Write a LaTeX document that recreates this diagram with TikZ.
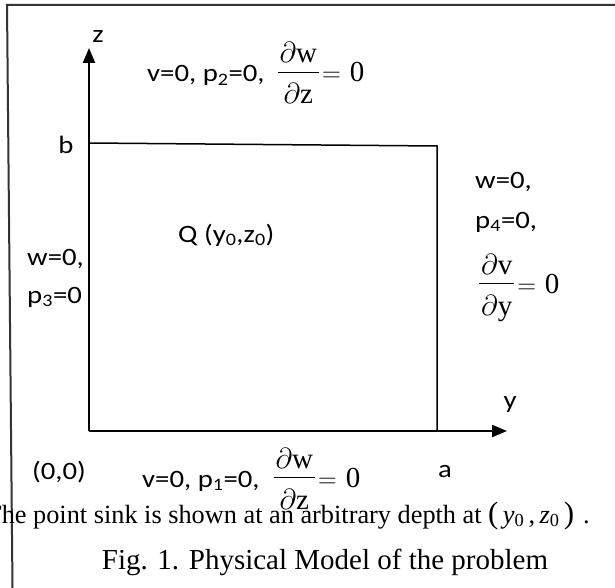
\RequirePackage{fix-cm}
\documentclass[tikz,border=0pt]{standalone}
\usepackage{amsmath}
\usepackage{fontspec}
\setmainfont{Liberation Serif}
\setsansfont{Carlito}[FakeStretch=1.15]
\usetikzlibrary{arrows.meta}

\tikzset{
  lbl/.style={font=\sffamily\fontsize{25}{30}\selectfont, inner sep=0pt},
  captext/.style={font=\rmfamily\fontsize{29}{34}\selectfont, inner sep=0pt},
  notetext/.style={font=\rmfamily\fontsize{26.3}{31}\selectfont, inner sep=0pt},
  axis/.style={line width=2.2pt, -{Triangle[length=15pt,width=12pt]}},
  boxline/.style={line width=1.5pt}
}
\newcommand{\pfrac}[2]{{\rmfamily\fontsize{29}{34}\selectfont
  \setbox0\hbox{$\partial$#1}\setbox2\hbox{$\partial$#2}%
  \dimen0=\ifdim\wd0>\wd2 \wd0\else\wd2\fi
  \advance\dimen0 by 4pt
  \rlap{\hbox to\dimen0{\hss\raisebox{19pt}{\copy0}\hss}}%
  \rlap{\hbox to\dimen0{\hss\raisebox{-22pt}{\copy2}\hss}}%
  \rule[9pt]{\dimen0}{1.2pt}\hspace{3pt}{\fontsize{26}{30}\selectfont$=$}\hspace{9pt}0}}
\newcommand{\sub}[1]{$_{\text{#1}}$}

\begin{document}
\begin{tikzpicture}[x=1pt,y=-1pt]
\useasboundingbox (0,0) rectangle (615,588);
\draw[line width=2pt, black!80] (12.5,588) -- (7,5) -- (615,5);
\coordinate (O) at (89,431);
\coordinate (zend) at (89,48);
\coordinate (yend) at (507,431);
\coordinate (B) at (89,143);
\coordinate (C) at (437,146);
\coordinate (A) at (437,431);
\draw[axis] (O) -- (zend);
\draw[axis] (O) -- (yend);
\draw[boxline] (B) -- (C) -- (A);
\node[lbl] (zlab) at (98,37) {z};
\node[lbl] (ylab) at (510,405) {y};
\node[lbl] (blab) at (66,145) {b};
\node[lbl] (alab) at (445,472) {a};
\node[lbl] (olab) at (59,472) {(0,0)};
\node[lbl, anchor=base west] (top) at (147,82) {v=0, p\sub{2}=0,\hspace{13pt}\pfrac{w}{z}};
\node[lbl, anchor=base west] (bot) at (142,487) {v=0, p\sub{1}=0,\hspace{14pt}\pfrac{w}{z}};
\node[lbl, anchor=base west] (Q) at (178,242) {Q (y\sub{0},z\sub{0})};
\node[lbl, anchor=base west] (left1) at (27,265) {w=0,};
\node[lbl, anchor=base west] (left2) at (27,303) {p\sub{3}=0};
\node[lbl, anchor=base west] (right1) at (475,188) {w=0,};
\node[lbl, anchor=base west] (right2) at (475,228) {p\sub{4}=0,};
\node[lbl, anchor=base west] (right3) at (479,293) {\pfrac{v}{y}};
\node[notetext, anchor=base west] (note) at (-14.5,523) {The point sink is shown at an arbitrary depth at {\fontsize{31}{31}\selectfont(}\,\textit{y}\sub{0}\,,\,\textit{z}\sub{0}\,{\fontsize{31}{31}\selectfont)}\,\,.};
\node[captext] (fig) at (325,562) {Fig. 1. Physical Model of the problem};
\end{tikzpicture}
\end{document}
